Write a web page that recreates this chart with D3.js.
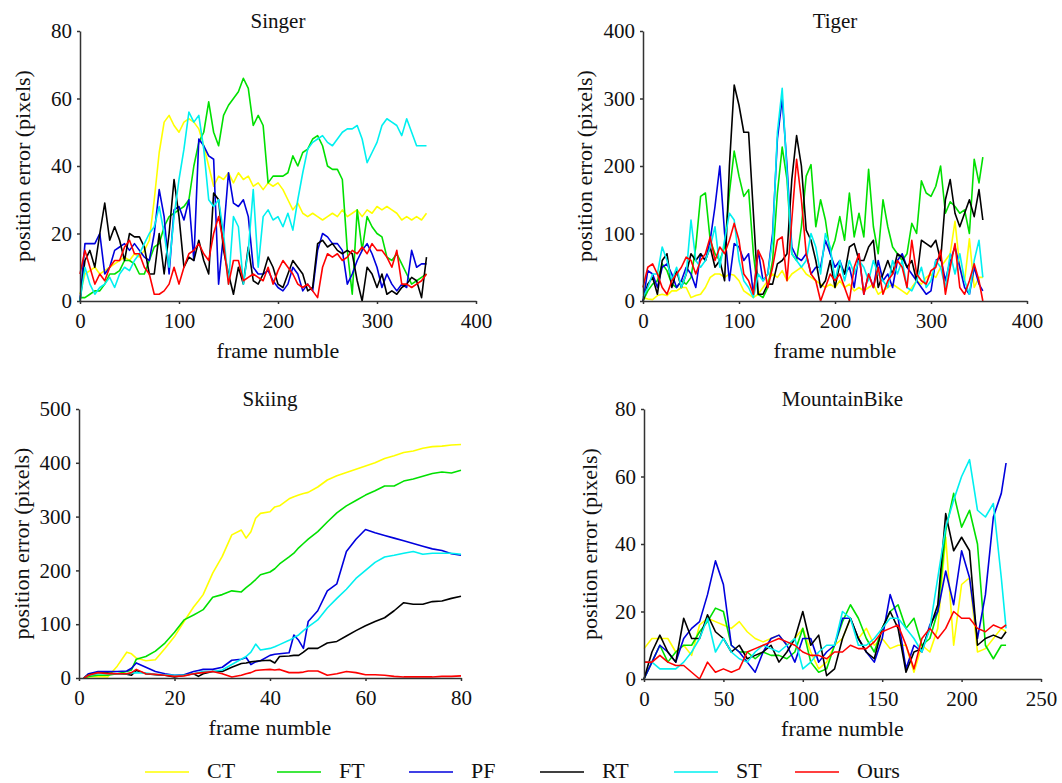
<!DOCTYPE html>
<html lang="en">
    <head>
        <meta charset="utf-8">
        <title>Position error per frame</title>
        <script src="https://d3js.org/d3.v7.min.js"></script>
        <style type="text/css">
        body { margin: 0; background: #fff; }
        svg text { font-family: "Liberation Serif", "DejaVu Serif", serif !important; }
        </style>
    </head>
    <body>
        <script type="text/javascript">

//1. Data
const trackers = ["CT", "FT", "PF", "RT", "ST", "Ours"];
const colors = ["#ffff00", "#00e000", "#0000dd", "#000000", "#00f0f0", "#ff0000"];

// Singer
const singerFrames = [0,5,10,15,20,25,30,35,40,45,50,55,60,65,70,75,80,85,90,95,100,105,110,115,120,125,130,135,140,145,150,155,160,165,170,175,180,185,190,195,200,205,210,215,220,225,230,235,240,245,250,255,260,265,270,275,280,285,290,295,300,305,310,315,320,325,330,335,340,345,350];
const singerCT = [2,8,9,10,8,9,10,11,12,13, 12,14,13,15,18,30,44,53,55,52, 50,53,54,53,51,46,40,34,37,36, 38,35,38,36,37,34,35,33,35,34, 35,33,30,27,29,26,25,26,25,24, 25,26,25,27,25,26,27,25,27,26, 28,27,28,27,26,24,25,24,25,24, 26];
const singerFT = [1,1,2,3,3,5,8,8,9,12, 12,11,8,8,12,16,17,22,25,26, 27,28,30,40,47,50,59,50,46,55, 58,60,62,66,63,52,55,52,35,37, 37,37,38,43,40,44,45,48,49,46, 40,39,39,36,15,2,27,15,25,22, 20,19,13,12,14,11,8,5,6,7, 8];
const singerPF = [0,17,17,17,20,8,10,15,16,17, 15,17,15,13,12,20,33,25,8,27, 28,24,30,12,48,46,43,42,5,20, 38,29,28,30,25,10,8,8,9,6, 4,3,5,10,8,3,5,3,15,20, 19,17,17,15,5,8,12,15,17,14, 10,4,8,5,3,5,4,15,10,11, 11];
const singerRT = [0,12,15,10,20,29,18,22,18,12, 20,19,19,16,8,8,20,8,20,36, 25,10,13,12,18,12,8,32,30,15, 8,2,10,5,16,6,5,8,13,10, 5,4,8,12,10,8,3,4,17,18, 16,17,15,14,15,14,6,0,10,8, 4,8,2,3,2,4,5,7,6,1, 13];
const singerST = [0,10,5,2,4,5,7,4,8,10, 9,12,14,17,20,22,28,20,10,25, 36,45,56,53,55,45,30,28,30,20, 5,25,22,5,15,33,10,25,27,24, 25,22,26,21,30,38,45,47,48,49, 47,46,48,50,51,51,52,48,41,44, 47,52,54,53,52,49,54,50,46,46, 46];
const singerOurs = [8,15,10,5,8,6,10,12,12,16, 18,14,14,10,8,2,2,3,5,10, 5,10,14,15,17,14,12,20,25,17, 5,12,12,6,7,8,7,6,10,5, 9,12,10,8,5,4,5,3,1,10, 14,13,14,12,13,15,14,16,14,17, 15,15,13,10,15,5,5,4,5,6, 8];

// Tiger
const tigerFrames = [0,5,10,15,20,25,30,35,40,45,50,55,60,65,70,75,80,85,90,95,100,105,110,115,120,125,130,135,140,145,150,155,160,165,170,175,180,185,190,195,200,205,210,215,220,225,230,235,240,245,250,255,260,265,270,275,280,285,290,295,300,305,310,315,320,325,330,335,340,345,350,354];
const tigerCT = [5,3,2,8,10,8,15,15,20,20, 5,8,10,20,35,40,40,35,40,38, 30,15,10,5,10,20,30,40,35,45, 30,40,45,50,40,35,30,25,20,25, 20,30,20,25,15,20,15,20,25,10, 15,20,25,20,15,10,20,30,25,35, 40,35,50,60,70,118,50,30,92,20, 35,35];
const tigerFT = [0,15,25,30,55,45,25,20,30,25, 35,80,155,160,90,70,60,80,160,222, 185,155,165,70,10,5,20,60,160,228, 180,70,60,110,185,202,110,150,120,70, 90,125,90,160,95,130,95,195,110,70, 150,110,80,70,60,70,115,100,178,160, 155,170,200,130,147,140,130,135,100,210, 175,213];
const tigerPF = [0,45,40,20,50,55,40,20,30,50, 40,20,70,60,90,140,200,100,30,85, 80,60,70,10,75,30,40,100,240,300, 200,80,65,60,70,40,50,50,90,70, 50,60,40,50,20,70,10,40,20,60, 30,40,20,60,70,50,40,30,20,10, 15,60,65,30,60,80,50,20,10,50, 25,15];
const tigerRT = [0,25,35,10,60,70,20,45,20,40, 70,60,70,60,80,50,60,30,200,320, 290,250,250,130,10,10,25,25,55,60, 70,180,245,200,105,90,60,20,30,60, 20,55,40,80,85,60,60,80,90,20, 40,60,40,70,65,50,60,30,90,85, 80,90,60,150,180,130,110,130,150,125, 165,120];
const tigerST = [5,20,40,40,80,60,30,50,20,40, 120,60,50,60,80,110,50,90,130,120, 60,30,20,5,40,30,40,90,250,315, 190,70,60,50,60,100,80,40,100,80, 30,60,30,60,40,60,50,30,60,40, 30,20,60,40,60,20,15,30,50,20, 30,60,50,20,70,40,70,30,10,60, 90,35];
const tigerOurs = [20,50,55,40,20,10,30,40,50,65, 60,40,60,70,95,60,80,70,90,115, 90,40,30,10,75,60,20,50,90,95, 30,120,210,150,70,40,30,0,20,40, 30,40,20,0,50,70,10,40,20,50, 10,30,40,60,50,20,90,40,30,25, 45,50,75,10,50,85,20,10,30,55, 30,0];

// Skiing
const skiingFrames = [1,2,4,6,8,10,11,12,14,16,18,20,22,24,25,26,28,30,32,34,35,36,37,38,40,41,42,44,45,46,47,48,50,52,54,56,58,60,62,64,66,68,70,72,74,76,78,80];
const skiingCT = [0,2,3,2,22,48,45,37,32,34,55,77,105,132,143,155,195,226,266,275,260,272,297,306,309,318,320,333,337,340,343,345,355,368,376,382,388,394,400,408,413,419,422,427,430,431,433,434];
const skiingFT = [0,3,5,5,8,12,15,35,40,50,65,85,108,117,122,127,150,155,162,160,168,175,183,192,197,203,212,225,232,242,250,258,272,290,307,320,330,340,348,357,357,366,370,375,380,383,381,386];
const skiingPF = [0,8,12,12,12,13,18,28,20,12,8,5,6,12,14,16,16,20,33,35,38,25,30,32,42,44,45,47,80,70,55,105,125,162,175,235,258,276,270,265,260,255,250,245,240,237,231,228];
const skiingRT = [0,6,9,9,8,7,5,14,8,6,5,2,5,8,3,8,12,12,20,27,28,30,31,32,33,28,40,41,42,42,48,55,55,65,68,78,88,97,105,112,125,140,137,137,142,143,148,152];
const skiingST = [0,5,8,8,8,8,9,10,9,7,6,5,5,8,10,12,12,15,25,35,40,48,63,52,55,58,62,70,75,80,88,95,108,130,148,165,185,200,215,225,228,232,235,230,232,232,232,230];
const skiingOurs = [0,5,10,8,8,8,10,16,8,7,5,3,4,8,9,10,12,8,2,5,8,10,14,15,16,15,16,10,10,10,11,13,13,5,8,12,10,6,6,5,3,2,2,2,2,3,3,4];

// MountainBike
const bikeFrames = [0,5,10,15,20,25,30,35,40,45,50,55,60,65,70,75,80,85,90,95,100,105,110,115,120,125,130,135,140,145,150,155,160,165,170,175,180,185,190,195,200,205,210,215,220,225,228];
const bikeCT = [9,12,12,12,8,10,7,16,18,17, 16,15,17,14,12,11,12,13,10,12, 15,8,3,5,10,12,18,12,15,10, 12,9,10,10,2,10,8,15,42,10, 28,30,8,9,12,15,14];
const bikeFT = [0,5,10,5,8,10,10,14,17,21, 20,10,8,8,6,8,7,7,6,8, 15,5,2,3,10,17,22,18,12,8, 15,20,22,15,18,10,12,20,44,55, 45,50,40,10,6,10,10];
const bikePF = [0,5,10,8,5,12,15,17,25,35, 28,10,8,5,2,8,12,13,10,5, 12,12,5,8,10,18,18,12,8,5, 12,25,18,3,10,8,16,20,32,22, 38,30,12,25,48,55,64];
const bikeRT = [0,8,13,8,5,18,12,12,19,14, 12,8,10,6,7,8,10,5,8,12, 20,10,13,1,3,12,18,12,8,6, 15,20,15,2,8,9,15,22,49,38, 42,38,10,12,13,12,14];
const bikeST = [5,5,3,3,3,5,8,12,18,8, 12,8,6,5,8,10,9,8,10,12, 3,5,8,10,10,20,18,10,10,12, 15,18,18,15,12,8,15,30,45,53, 60,65,50,48,52,30,15];
const bikeOurs = [5,5,7,5,4,4,2,0,5,2, 3,2,3,8,9,10,11,12,11,10, 8,7,7,6,8,8,10,9,9,11, 14,15,16,10,3,12,15,12,15,20, 18,18,15,14,16,15,16];

// tick labels
const singerXTicks = [0,100,200,300,400];
const singerYTicks = [0,20,40,60,80];
const tigerXTicks = [0,100,200,300,400];
const tigerYTicks = [0,100,200,300,400];
const skiingXTicks = [0,20,40,60,80];
const skiingYTicks = [0,100,200,300,400,500];
const bikeXTicks = [0,50,100,150,200,250];
const bikeYTicks = [0,20,40,60,80];

//2. Panel layout
const svgWidth = 1062;
const svgHeight = 783;
const fontSize = 21;
const serif = "'Liberation Serif', 'DejaVu Serif', serif";

const panels = [
    {title: "Singer", frames: singerFrames, series: [singerCT, singerFT, singerPF, singerRT, singerST, singerOurs],
     xTicks: singerXTicks, yTicks: singerYTicks, left: 80, right: 476, top: 31, bottom: 301, yLab: 50},
    {title: "Tiger", frames: tigerFrames, series: [tigerCT, tigerFT, tigerPF, tigerRT, tigerST, tigerOurs],
     xTicks: tigerXTicks, yTicks: tigerYTicks, left: 643, right: 1027, top: 31, bottom: 301, yLab: 51},
    {title: "Skiing", frames: skiingFrames, series: [skiingCT, skiingFT, skiingPF, skiingRT, skiingST, skiingOurs],
     xTicks: skiingXTicks, yTicks: skiingYTicks, left: 79, right: 461, top: 409, bottom: 678, yLab: 50},
    {title: "MountainBike", frames: bikeFrames, series: [bikeCT, bikeFT, bikePF, bikeRT, bikeST, bikeOurs],
     xTicks: bikeXTicks, yTicks: bikeYTicks, left: 644, right: 1041, top: 409, bottom: 679, yLab: 47}
];

//3. SVG
const svg = d3.select("body")
    .append("svg")
    .attr("width", svgWidth)
    .attr("height", svgHeight)
    .attr("font-family", serif);

svg.append("rect")
    .attr("width", svgWidth)
    .attr("height", svgHeight)
    .attr("fill", "#ffffff");

//4. Panels
panels.forEach(p => {
    const xScale = d3.scaleLinear()
        .domain([p.xTicks[0], p.xTicks[p.xTicks.length - 1]])
        .range([p.left, p.right]);
    const yScale = d3.scaleLinear()
        .domain([p.yTicks[0], p.yTicks[p.yTicks.length - 1]])
        .range([p.bottom, p.top]);

    const g = svg.append("g");

    // lines
    const line = d3.line()
        .x(d => xScale(d[0]))
        .y(d => yScale(d[1]));

    p.series.forEach((vals, i) => {
        g.append("path")
            .datum(p.frames.map((f, j) => [f, vals[j]]))
            .attr("fill", "none")
            .attr("stroke", colors[i])
            .attr("stroke-width", 1.6)
            .attr("stroke-linejoin", "round")
            .attr("d", line);
    });

    // axes
    const bottomAxis = d3.axisBottom(xScale)
        .tickValues(p.xTicks)
        .tickSize(3)
        .tickSizeOuter(0)
        .tickPadding(9);
    const leftAxis = d3.axisLeft(yScale)
        .tickValues(p.yTicks)
        .tickSize(3)
        .tickSizeOuter(0)
        .tickPadding(5);

    const xg = g.append("g")
        .attr("transform", "translate(0," + p.bottom + ")")
        .call(bottomAxis);
    const yg = g.append("g")
        .attr("transform", "translate(" + p.left + ",0)")
        .call(leftAxis);

    [xg, yg].forEach(a => {
        a.attr("font-family", serif).attr("font-size", fontSize);
        a.select(".domain").attr("stroke", "#333").attr("stroke-width", 1.5);
        a.selectAll(".tick line").attr("stroke", "#333").attr("stroke-width", 1.5);
        a.selectAll(".tick text").attr("fill", "#111");
    });

    // titles and axis labels
    const cx = (p.left + p.right) / 2;
    g.append("text")
        .attr("x", cx)
        .attr("y", p.top - 3)
        .attr("text-anchor", "middle")
        .attr("font-size", fontSize + "px")
        .attr("fill", "#111")
        .text(p.title);

    g.append("text")
        .attr("x", cx)
        .attr("y", p.bottom + 57)
        .attr("text-anchor", "middle")
        .attr("font-size", (fontSize + 1) + "px")
        .attr("fill", "#111")
        .text("frame numble");

    g.append("text")
        .attr("transform", "translate(" + (p.left - p.yLab) + "," + ((p.top + p.bottom) / 2) + ") rotate(-90)")
        .attr("text-anchor", "middle")
        .attr("font-size", (fontSize + 1) + "px")
        .attr("fill", "#111")
        .text("position error (pixels)");
});

//5. Legend
const legendX = [145, 277, 409, 540, 674, 795];
const legend = svg.append("g");

trackers.forEach((name, i) => {
    legend.append("line")
        .attr("x1", legendX[i])
        .attr("x2", legendX[i] + 44)
        .attr("y1", 772)
        .attr("y2", 772)
        .attr("stroke", colors[i])
        .attr("stroke-width", 1.5);
    legend.append("text")
        .attr("x", legendX[i] + 62)
        .attr("y", 778)
        .attr("font-size", (fontSize + 1) + "px")
        .attr("fill", "#111")
        .text(name);
});

</script>
</body>
</html>
